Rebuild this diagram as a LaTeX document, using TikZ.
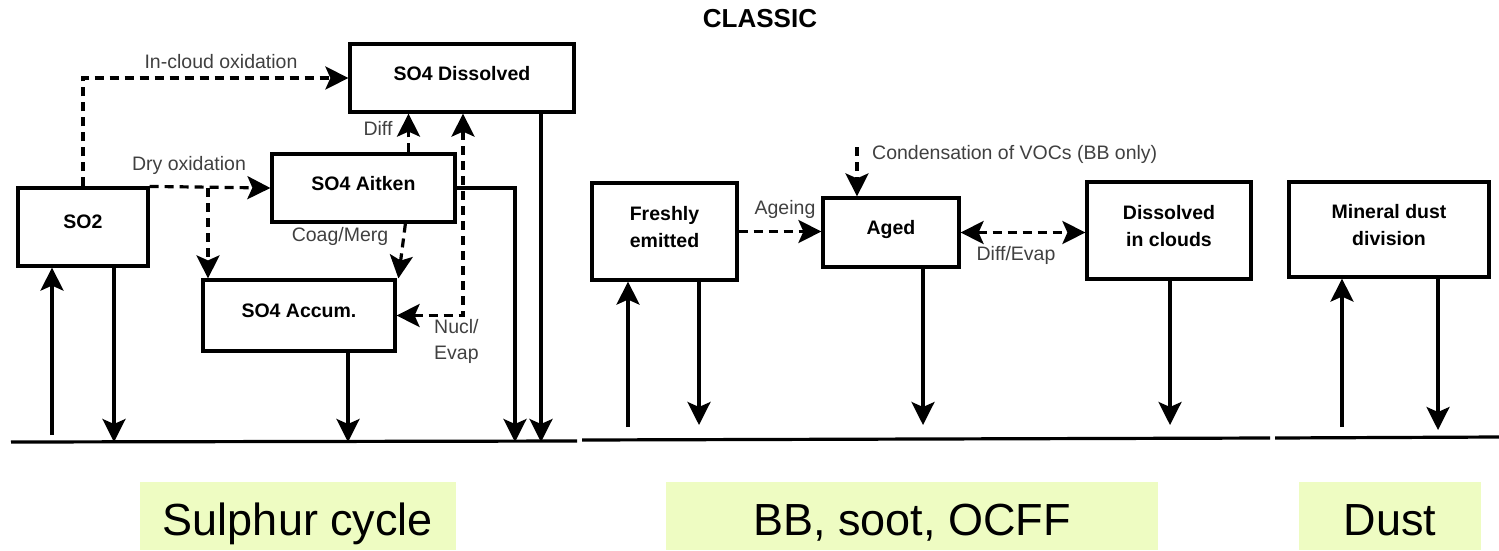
\documentclass[tikz,border=0pt]{standalone}
\usepackage{fontspec}
\setmainfont{Liberation Sans}
\usetikzlibrary{arrows.meta,calc}
\definecolor{tagfill}{RGB}{238,252,194}
\definecolor{labelgray}{RGB}{64,64,64}
\tikzset{tip/.tip={Stealth[length=23pt,width=23pt,inset=5pt]}}
\begin{document}
\begin{tikzpicture}[x=1pt,y=-1pt,
  box/.style={draw, line width=3.2pt, rectangle, align=center, inner sep=0pt,
              text depth=10pt, font=\fontsize{19.5}{27}\selectfont\bfseries},
  flow/.style={line width=3.2pt, -tip},
  dflow/.style={flow, dash pattern=on 9pt off 6pt},
  lbl/.style={text=labelgray, font=\fontsize{19.5}{26}\selectfont, inner sep=0pt},
  ground/.style={line width=3.2pt},
  tagtext/.style={inner sep=0pt, anchor=base, font=\fontsize{45}{50}\selectfont}
]
\useasboundingbox (0,0) rectangle (1499,550);

% title
\node[font=\fontsize{26}{30}\selectfont\bfseries] (title) at (760,19) {CLASSIC};

% ground lines
\draw[ground] (11,442) -- (577,441);
\draw[ground] (582,440) -- (1270,438);
\draw[ground] (1275,438) -- (1499,437);

% ---------------- sulphur cycle ----------------
\node[box, minimum width=224pt, minimum height=68pt] (dissolved) at (462,78) {SO4 Dissolved};
\node[box, minimum width=183pt, minimum height=68pt] (aitken) at (363.5,188) {SO4 Aitken};
\node[box, minimum width=130pt, minimum height=78pt] (so2) at (83,227) {SO2};
\node[box, minimum width=192pt, minimum height=71pt] (accum) at (299,315.5) {SO4 Accum.};

% in-cloud and dry oxidation
\draw[dflow] (so2.north) |- (dissolved.west);
\node[lbl] (lincloud) at (221,62) {In-cloud oxidation};
\draw[dflow] (so2.north east) -- (aitken.west);
\node[lbl] (ldry) at (189,165) {Dry oxidation};
\coordinate (branch) at (208,188);
\draw[dflow] (branch) -- (branch |- accum.north);

% exchanges between the sulphate modes
\coordinate (diffx) at (408.5,0);
\draw[dflow] (diffx |- aitken.north) -- (diffx |- dissolved.south);
\node[lbl] (ldiff) at (378,128) {Diff};
\draw[dflow] ($(aitken.south west)+(135,0)$) -- ($(accum.north west)+(197,0)$);
\node[lbl] (lcoag) at (340,236) {Coag/Merg};
\coordinate (nuclx) at (463,0);
\draw[dflow, tip-tip] (accum.east) -| (nuclx |- dissolved.south);
\node[lbl, align=left, anchor=west] (lnucl) at (434,341) {Nucl/\\Evap};

% emission and deposition
\coordinate (so2in) at (52,435);
\draw[flow] (so2in) -- (so2in |- so2.south);
\coordinate (so2out) at (114,442);
\draw[flow] (so2out |- so2.south) -- (so2out);
\coordinate (accout) at (348,442);
\draw[flow] (accout |- accum.south) -- (accout);
\coordinate (aitout) at (515,442);
\draw[flow] (aitken.east) -| (aitout);
\coordinate (disout) at (541,442);
\draw[flow] (disout |- dissolved.south) -- (disout);

% ---------------- BB, soot, OCFF ----------------
\node[box, minimum width=145pt, minimum height=97pt] (fresh) at (664.5,231.5) {Freshly\\emitted};
\node[box, minimum width=136pt, minimum height=69pt] (aged) at (891,232.5) {Aged};
\node[box, minimum width=164pt, minimum height=97pt] (cloud) at (1169,230.5) {Dissolved\\in clouds};

\draw[dflow] (fresh.east) -- (fresh.east -| aged.west);
\node[lbl] (lageing) at (785,209) {Ageing};
\coordinate (cond) at (857,147);
\draw[dflow] (cond) -- (cond |- aged.north);
\node[lbl, anchor=west] (lcond) at (872,154) {Condensation of VOCs (BB only)};
\draw[dflow, tip-tip] (aged.east) -- (aged.east -| cloud.west);
\node[lbl] (ldiffevap) at (1016,255) {Diff/Evap};

\coordinate (freshin) at (628,427);
\draw[flow] (freshin) -- (freshin |- fresh.south);
\coordinate (freshout) at (699,425);
\draw[flow] (freshout |- fresh.south) -- (freshout);
\coordinate (agedout) at (923,425);
\draw[flow] (agedout |- aged.south) -- (agedout);
\coordinate (cloudout) at (1170,425);
\draw[flow] (cloudout |- cloud.south) -- (cloudout);

% ---------------- dust ----------------
\node[box, minimum width=200pt, minimum height=95pt] (dust) at (1389,229.5) {Mineral dust\\division};
\coordinate (dustin) at (1342,427);
\draw[flow] (dustin) -- (dustin |- dust.south);
\coordinate (dustout) at (1438,430);
\draw[flow] (dustout |- dust.south) -- (dustout);

% ---------------- category tags ----------------
\fill[tagfill] (140,482) rectangle (456,550);
\node[tagtext] (tagsulphur) at (298,535) {Sulphur cycle};
\fill[tagfill] (666,482) rectangle (1158,550);
\node[tagtext] (tagbb) at (912,535) {BB, soot, OCFF};
\fill[tagfill] (1299,482) rectangle (1481,550);
\node[tagtext] (tagdust) at (1390,535) {Dust};
\end{tikzpicture}
\end{document}
